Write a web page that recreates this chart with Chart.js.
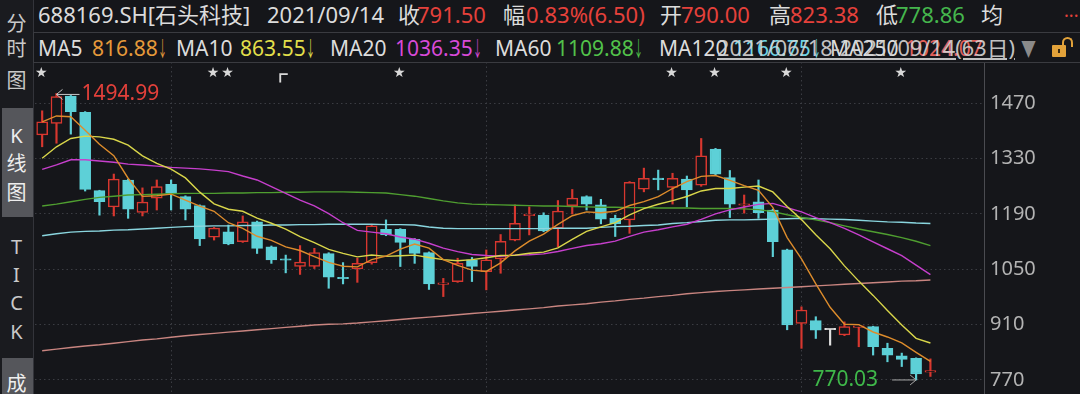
<!DOCTYPE html>
<html>
<head>
<meta charset="utf-8">
<script src="https://cdn.jsdelivr.net/npm/chart.js@4.4.1/dist/chart.umd.min.js"></script>
<style>
  body { margin: 0; width: 1080px; height: 394px; overflow: hidden; position: relative; background: #15161a;
         font-family: "Noto Sans", "Noto Sans CJK SC", sans-serif; color: #dcdcdc; }
  .side { position: absolute; left: 0; top: 0; width: 33px; height: 394px; background: #1a1b1f; border-right: 1px solid #33343a; }
  .btn { position: absolute; left: 2px; width: 31px; background: #55565b; }
  .sc { position: absolute; left: 0; width: 33px; text-align: center; font-size: 20px; line-height: 20px; color: #c9c9c9; }
  .frame { position: absolute; left: 33px; top: 32px; width: 1047px; height: 31px; box-sizing: border-box;
           border-top: 1px solid #3a3b40; border-bottom: 1px solid #3a3b40; border-left: 1px solid #3a3b40; z-index: 2; }
  .t { position: absolute; font-size: 22px; line-height: 28px; white-space: nowrap; transform-origin: 0 50%; }
  .r2 { font-size: 21px; }
  #wrap { position: absolute; left: 35px; top: 62px; width: 1045px; height: 332px; }
</style>
</head>
<body>
<div class="side"></div>
<div class="btn" style="top:108px;height:109px"></div>
<div class="btn" style="top:358px;height:40px"></div>
<div id="sidebar"></div>
<div class="frame"></div>
<div id="header"></div>
<div id="wrap"><canvas id="chart" width="1045" height="332"></canvas></div>

<script>
// 688169.SH daily candles 2021/06/18 - 2021/09/14 (63 days)
const dates = ['06/18','06/21','06/22','06/23','06/24','06/25','06/28','06/29','06/30',
  '07/01','07/02','07/05','07/06','07/07','07/08','07/09','07/12','07/13','07/14','07/15','07/16',
  '07/19','07/20','07/21','07/22','07/23','07/26','07/27','07/28','07/29','07/30',
  '08/02','08/03','08/04','08/05','08/06','08/09','08/10','08/11','08/12','08/13','08/16','08/17',
  '08/18','08/19','08/20','08/23','08/24','08/25','08/26','08/27','08/30','08/31',
  '09/01','09/02','09/03','09/06','09/07','09/08','09/09','09/10','09/13','09/14'];

const openP  = [1390,1419,1488,1447,1249,1208,1276,1194,1230,1265,1234,1211,1131,1145,1120,1170,1107,1075,1057,1057,1090,
  1028,1051,1067,1151,1151,1126,1092,1012,1019,1074,1044,1076,1124,1186,1187,1154,1211,1234,1213,1179,
  1175,1253,1279,1257,1278,1263,1354,1282,1212,1221,1200,1099,913,920,897,884,903,905,850,831,825,790];
const closeP = [1423,1487,1449,1252,1221,1278,1202,1220,1259,1242,1202,1127,1154,1114,1170,1103,1074,1073,1068,1092,1030,
  1026,1065,1160,1137,1118,1090,1013,1014,1065,1057,1074,1121,1166,1188,1147,1197,1230,1215,1177,1165,
  1270,1280,1277,1280,1251,1337,1291,1215,1214,1193,1120,909,947,896,897,905,905,854,833,822,785,791.5];
const highP  = [1451,1494.99,1490,1449,1250,1291,1278,1256,1276,1276,1236,1213,1156,1162,1185,1172,1109,1086,1110,1103,1092,
  1067,1078,1162,1175,1153,1128,1094,1027,1078,1080,1099,1138,1213,1208,1193,1224,1252,1236,1227,1187,
  1272,1306,1301,1293,1286,1381,1356,1300,1238,1276,1202,1101,955,930,898,917,905,906,863,838,826,823.38];
const lowP   = [1360,1369,1392,1248,1187,1185,1179,1185,1200,1200,1175,1110,1124,1112,1118,1090,1065,1041,1037,1052,1002,
  1013,1017,1063,1135,1057,1065,999,981,1017,1019,998,1040,1122,1137,1145,1107,1190,1200,1165,1133,
  1141,1246,1251,1215,1208,1260,1289,1181,1192,1179,1082,897,850,875,858,882,854,833,816,804,770.03,778.86];

const ma5 = [1423,1438,1436,1402,1366.4,1337.4,1280.4,1234.6,1236,1240.2,1225,1210,1196.8,1167.8,1153.4,1133.6,1123,
  1106.8,1097.6,1082,1067.4,1057.8,1056.2,1074.6,1083.6,1101.2,1114,1103.6,1074.4,1060,1047.8,1044.6,1066.2,
  1096.6,1121.2,1139.2,1163.8,1185.6,1195.4,1193.2,1196.8,1211.4,1221.4,1233.8,1254.4,1271.6,1285,1287.2,1274.8,
  1261.6,1250,1206.6,1130.2,1076.6,1013,953.8,910.8,910,891.4,878.8,863.8,839.8,816.88];
const ma10 = [1331,1360,1381,1387,1385,1379,1364,1337,1318,1303.3,1281.2,1245.2,1215.7,1201.9,1196.8,1179.3,1166.5,
  1151.8,1132.7,1117.7,1100.5,1090.4,1081.5,1086.1,1082.8,1084.3,1085.9,1079.9,1074.5,1071.8,1074.5,1079.3,1084.9,
  1085.5,1090.6,1093.5,1104.2,1125.9,1146,1157.2,1168,1187.6,1203.5,1214.6,1223.8,1234.2,1248.2,1254.3,1254.3,
  1258,1260.8,1245.8,1208.7,1175.7,1137.3,1101.9,1058.7,1020.1,984,945.9,908.8,875.3,863.55];
const ma20 = [1303,1314,1327,1327,1324,1321,1316,1314,1311,1308,1306,1304,1301,1297,1286,1276,1259,1242,1225,1210.5,
  1190.9,1167.8,1148.6,1144,1139.8,1131.8,1126.2,1115.9,1103.6,1094.8,1087.5,1084.9,1083.2,1085.8,1086.7,1088.9,
  1095.1,1102.9,1110.3,1114.5,1121.3,1133.5,1144.2,1150.1,1157.2,1163.9,1176.2,1190.1,1200.2,1207.6,1214.4,1216.7,
  1206.1,1195.2,1180.6,1168.1,1153.5,1137.2,1119.2,1102,1084.8,1060.6,1036.35];
const ma60 = [1210,1215,1221,1227,1232,1235,1238,1239,1240,1241,1242,1242,1242,1243,1243,1244,1244,1245,1245,1246,1246,
  1246,1245,1244,1243,1239,1235,1229,1223,1218,1215,1214,1213,1212,1211,1210,1210,1209,1208,1207,1207,
  1206,1206,1205,1205,1205,1204,1204,1204,1203,1201,1196,1188,1181,1175,1168,1160,1152,1145,1138,1130,1121,1109.88];
const ma120 = [1135,1140,1144,1146,1147,1149,1150,1152,1154,1156,1158,1159,1160,1160,1161,1161,1162,1162,1163,1163,1164,
  1164,1164,1164,1163,1163,1162,1157,1154,1153,1153,1153,1153,1153,1153,1153,1154,1154,1154,1156,1158,
  1159,1161,1162,1166,1168,1171,1174,1175,1175,1176,1177,1178,1179,1178,1177,1176,1174,1172,1170,1169,1167,1166];
const ma250 = [844,848,852,856,859,863,867,871,874,878,882,885,888,891,894,897,900,903,906,909,911,
  912,914,917,920,923,926,929,932,935,938,941,944,947,950,953,957,960,963,967,970,
  974,977,981,984,988,991,994,996,998,1000,1002,1004,1006,1008,1010,1012,1014,1016,1018,1020,1021,1023];

const yTicks = [770, 910, 1050, 1190, 1330, 1470];
const monthStarts = [9, 31, 53];
const starIdx = [0, 12, 13, 25, 44, 47, 52, 60];
const flagIdx = [17];

const BG = '#15161a', UP = '#d8372f', DOWN = '#5dd0d7', FLAT = '#e0e0e0', GRID = '#3b3c42';
const candleColor = dates.map((d, i) => closeP[i] > openP[i] ? UP : closeP[i] < openP[i] ? DOWN : FLAT);

// header text: [text, left, top, colour, fitWidth]
const W = '#dcdcdc', R = '#e5413b', G = '#45b64d';
const header = [
  ['688169.SH[石头科技]', 38, 0, W], ['2021/09/14', 267, 0, W],
  ['收', 398, 0, W], ['791.50', 417, 0, R],
  ['幅', 503, 0, W], ['0.83%(6.50)', 526, 0, R],
  ['开', 660, 0, W], ['790.00', 681, 0, R],
  ['高', 769, 0, W], ['823.38', 790, 0, R],
  ['低', 876, 0, W], ['778.86', 896, 0, G], ['均', 981, 0, W],
  ['MA5', 38, 34, W], ['816.88', 92, 34, '#e69a3a'], ['↓', 158, 34, '#e69a3a', 9],
  ['MA10', 176, 34, W], ['863.55', 240, 34, '#e2df4a'], ['↓', 306, 34, '#e2df4a', 9],
  ['MA20', 330, 34, W], ['1036.35', 395, 34, '#d84ad8'], ['↓', 473, 34, '#d84ad8', 9],
  ['MA60', 495, 34, W], ['1109.88', 556, 34, '#52c24a'], ['↓', 634, 34, '#52c24a', 9],
  ['MA120', 659, 34, W], ['1166.75', 733, 34, '#6fd4e4'], ['↓', 812, 34, '#6fd4e4', 9],
  ['MA250', 830, 34, W], ['1024.07', 905, 34, '#e0605a'],
  ['2021/06/18-2021/09/14(63日)', 717, 34, '#d4d4d4', 298],
  ['▼', 1021, 34, '#8a8a8a', 15]
];
const hdr = document.getElementById('header');
header.forEach(([t, x0, y, c, fit]) => {
  const s = document.createElement('div');
  s.className = y > 0 ? 't r2' : 't'; s.textContent = t;
  s.style.left = x0 + 'px'; s.style.top = y + 'px'; s.style.color = c;
  if (t.startsWith('2021/06')) { s.style.textDecoration = 'underline'; s.style.opacity = '0.9'; }
  hdr.appendChild(s);
  if (fit) s.style.transform = 'scaleX(' + (fit / s.offsetWidth).toFixed(3) + ')';
});
const dots = document.createElement('div');
dots.className = 't'; dots.textContent = '...';
dots.style.cssText += 'left:1064px;top:-4px;color:#e5413b;font-size:18px';
hdr.appendChild(dots);
// padlock
const lock = document.createElement('div');
lock.style.cssText = 'position:absolute;left:1052px;top:45px;width:14px;height:12px;background:#e2a23a;border-radius:1px';
hdr.appendChild(lock);
const shackle = document.createElement('div');
shackle.style.cssText = 'position:absolute;left:1062px;top:37px;width:11px;height:10px;border:2px solid #e2a23a;border-bottom:none;border-radius:6px 6px 0 0;box-sizing:border-box';
hdr.appendChild(shackle);
const key = document.createElement('div');
key.style.cssText = 'position:absolute;left:1058px;top:49px;width:2px;height:4px;background:#3a2a10';
hdr.appendChild(key);

const sideChars = [['分', 24], ['时', 49], ['图', 81], ['K', 136, '#eeeeee'], ['线', 164, '#eeeeee'], ['图', 193, '#eeeeee'],
  ['T', 247], ['I', 275], ['C', 303], ['K', 332], ['成', 384, '#eeeeee']];
const sb = document.getElementById('sidebar');
sideChars.forEach(([t, cy, c]) => {
  const s = document.createElement('div');
  s.className = 'sc'; s.textContent = t; s.style.top = (cy - 10) + 'px';
  if (c) s.style.color = c;
  sb.appendChild(s);
});

// stars, max / min markers
const marks = {
  id: 'marks',
  afterDatasetsDraw(chart) {
    const { ctx, chartArea, scales: { x, y } } = chart;
    ctx.save();
    ctx.fillStyle = '#d8d8d8';
    ctx.textAlign = 'center';
    ctx.textBaseline = 'middle';
    ctx.font = '14px "DejaVu Sans"';
    starIdx.forEach(i => ctx.fillText('★', x.getPixelForValue(i) - 1, chartArea.top + 11));
    ctx.font = 'bold 15px "Noto Sans CJK SC"';
    ctx.textAlign = 'right';
    flagIdx.forEach(i => ctx.fillText('┏', x.getPixelForValue(i) + 2, chartArea.top + 12));

    ctx.font = '21px "Noto Sans"';
    // highest
    const iMax = highP.indexOf(Math.max(...highP));
    let px = x.getPixelForValue(iMax), py = y.getPixelForValue(highP[iMax]);
    ctx.strokeStyle = '#c8c8c8'; ctx.lineWidth = 1;
    ctx.beginPath();
    ctx.moveTo(px, py + 1); ctx.lineTo(px + 23, py + 1);
    ctx.moveTo(px + 6, py - 4); ctx.lineTo(px, py + 1); ctx.lineTo(px + 6, py + 6);
    ctx.stroke();
    ctx.fillStyle = '#e2403a'; ctx.textAlign = 'left';
    ctx.fillText(highP[iMax].toFixed(2), px + 25, py + 1);
    // lowest
    const iMin = lowP.indexOf(Math.min(...lowP));
    px = x.getPixelForValue(iMin); py = y.getPixelForValue(lowP[iMin]);
    ctx.strokeStyle = '#a8a8a8';
    ctx.beginPath();
    ctx.moveTo(px, py); ctx.lineTo(px - 24, py);
    ctx.moveTo(px - 6, py - 5); ctx.lineTo(px, py); ctx.lineTo(px - 6, py + 5);
    ctx.stroke();
    ctx.fillStyle = '#3fb84a'; ctx.textAlign = 'right';
    ctx.fillText(lowP[iMin].toFixed(2), px - 38, py);
    ctx.restore();
  }
};

const pts = arr => arr.map((v, i) => ({ x: i, y: v }));
const maLine = (arr, color) => ({
  type: 'line', data: pts(arr), borderColor: color, borderWidth: 1.4,
  pointRadius: 0, tension: 0, fill: false, order: 1
});

new Chart(document.getElementById('chart'), {
  type: 'bar',
  data: {
    datasets: [
      maLine(ma5, '#dd8c2c'),
      maLine(ma10, '#d9d64a'),
      maLine(ma20, '#c63fcc'),
      maLine(ma60, '#4f9e30'),
      maLine(ma120, '#8ad6df'),
      maLine(ma250, '#c98580'),
      {
        data: dates.map((d, i) => ({ x: i, y: [openP[i], closeP[i]] })),
        backgroundColor: candleColor.map(c => c === UP ? BG : c),
        borderColor: candleColor,
        borderWidth: 1.5,
        borderSkipped: false,
        barThickness: 11,
        minBarLength: 1.5,
        grouped: false,
        order: 2
      },
      {
        data: dates.map((d, i) => ({ x: i, y: [lowP[i], highP[i]] })),
        backgroundColor: candleColor,
        barThickness: 1.5,
        grouped: false,
        order: 3
      }
    ]
  },
  options: {
    responsive: false,
    animation: false,
    layout: { padding: 0 },
    plugins: { legend: { display: false }, tooltip: { enabled: false } },
    scales: {
      x: {
        type: 'linear', min: -0.5, max: 65.74, offset: false,
        afterBuildTicks: s => { s.ticks = monthStarts.map(v => ({ value: v })); },
        afterFit: s => { s.height = 0; s.paddingLeft = 0; s.paddingRight = 0; },
        ticks: { display: false },
        grid: { color: GRID, drawTicks: false, offset: false },
        border: { display: false, dash: [1.5, 3] }
      },
      y: {
        position: 'right', min: 734.5, max: 1574.5,
        afterBuildTicks: s => { s.ticks = yTicks.map(v => ({ value: v })); },
        afterFit: s => { s.width = 96; s.paddingTop = 0; s.paddingBottom = 0; },
        ticks: { color: '#b3b3b3', font: { family: 'Noto Sans', size: 20 }, padding: 6, callback: v => String(v) },
        grid: { color: GRID, drawTicks: false },
        border: { display: true, color: '#4a4b50', width: 1, dash: [1.5, 3] }
      }
    }
  },
  plugins: [marks]
});
</script>
</body>
</html>
